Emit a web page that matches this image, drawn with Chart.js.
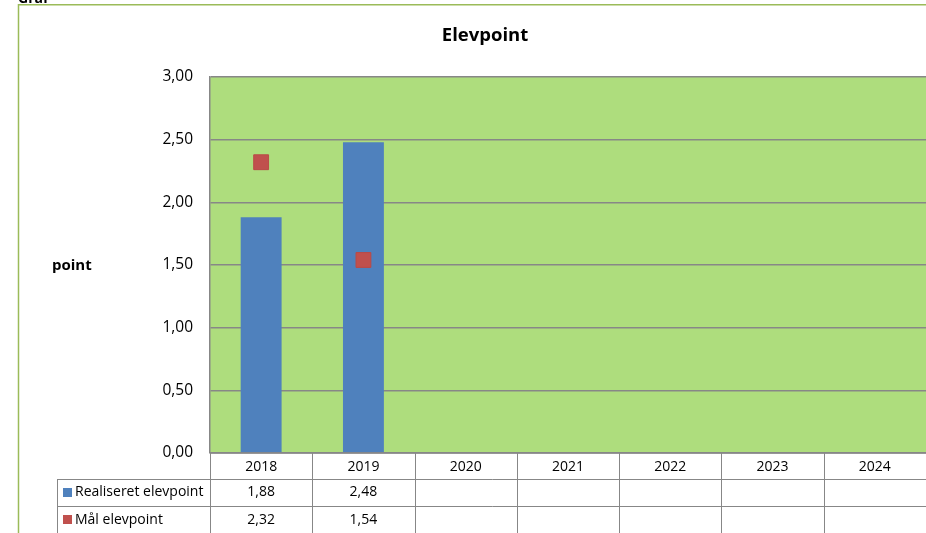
<!DOCTYPE html>
<html>
<head>
<meta charset="utf-8">
<script src="https://cdn.jsdelivr.net/npm/chart.js@4"></script>
<style>
  html, body { margin: 0; padding: 0; background: #ffffff; }
  #wrap { width: 926px; height: 533px; position: relative; }
</style>
</head>
<body>
<div id="wrap"><canvas id="c" width="926" height="533"></canvas></div>
<script>
// ---- data ----
const chartTitle = 'Elevpoint';
const yAxisLabel = 'point';
const categories = ['2018', '2019', '2020', '2021', '2022', '2023', '2024'];
const realiseretLabel = 'Realiseret elevpoint';
const realiseret = [1.88, 2.48, null, null, null, null, null];
const maalLabel = 'Mål elevpoint';
const maal = [2.32, 1.54, null, null, null, null, null];
const yMin = 0;
const yMax = 3;
const yStep = 0.5;

const BLUE = '#4F81BD';
const RED = '#C0504D';
const GREEN = '#AEDD7D';
const GRID = '#878787';
const FONT = '"Open Sans", Lato, sans-serif';

function fmt(v) { return v.toFixed(2).replace('.', ','); }

const tablePlugin = {
  id: 'excelTable',
  beforeDraw(chart) {
    const ctx = chart.ctx;
    const a = chart.chartArea;
    ctx.save();
    ctx.fillStyle = GREEN;
    ctx.fillRect(a.left, a.top, a.right - a.left, a.bottom - a.top);
    ctx.restore();
  },
  afterDraw(chart) {
    const ctx = chart.ctx;
    const a = chart.chartArea;
    const xs = chart.scales.x;
    ctx.save();
    // outer frame
    ctx.strokeStyle = '#9BBB59';
    ctx.lineWidth = 1.5;
    ctx.beginPath();
    ctx.moveTo(18.5, 540);
    ctx.lineTo(18.5, 4.75);
    ctx.lineTo(930, 4.75);
    ctx.stroke();
    // partial heading above frame
    ctx.fillStyle = '#000';
    ctx.font = 'bold 14px ' + FONT;
    ctx.textAlign = 'left';
    ctx.textBaseline = 'alphabetic';
    ctx.fillText('Graf', 18, 2.5);
    // title
    ctx.font = 'bold 18.5px ' + FONT;
    ctx.textAlign = 'center';
    ctx.fillText(chartTitle, 485, 40.7);
    // y axis label
    ctx.font = 'bold 15px ' + FONT;
    ctx.textAlign = 'left';
    ctx.fillText(yAxisLabel, 52, 270);

    // data table
    const n = categories.length;
    const colW = (a.right - a.left) / n;
    const top = a.bottom;
    const rowH = [26, 27, 28];
    const y1 = top + rowH[0];
    const y2 = y1 + rowH[1];
    const y3 = y2 + rowH[2];
    const leftX = 57.5;
    ctx.strokeStyle = GRID;
    ctx.lineWidth = 1;
    ctx.beginPath();
    for (let i = 0; i <= n; i++) {
      const x = Math.round(a.left + i * colW) + 0.5;
      ctx.moveTo(x, top);
      ctx.lineTo(x, y3);
    }
    ctx.moveTo(leftX, y1);
    ctx.lineTo(leftX, y3);
    ctx.moveTo(leftX, Math.round(y1) + 0.5);
    ctx.lineTo(a.right + 2, Math.round(y1) + 0.5);
    ctx.moveTo(leftX, Math.round(y2) + 0.5);
    ctx.lineTo(a.right + 2, Math.round(y2) + 0.5);
    ctx.stroke();
    // bottom axis line
    ctx.lineWidth = 1.5;
    ctx.beginPath();
    ctx.moveTo(a.left, a.bottom);
    ctx.lineTo(a.right + 2, a.bottom);
    ctx.stroke();

    ctx.fillStyle = '#000';
    ctx.font = '14px ' + FONT;
    ctx.textAlign = 'center';
    ctx.textBaseline = 'middle';
    for (let i = 0; i < n; i++) {
      const cx = xs.getPixelForValue(i);
      ctx.fillText(categories[i], cx, top + rowH[0] / 2 + 1);
      if (realiseret[i] != null) ctx.fillText(fmt(realiseret[i]), cx, y1 + rowH[1] / 2);
      if (maal[i] != null) ctx.fillText(fmt(maal[i]), cx, y2 + rowH[2] / 2);
    }
    // legend keys
    ctx.fillStyle = BLUE;
    ctx.fillRect(63, y1 + 9, 9, 9);
    ctx.fillStyle = RED;
    ctx.fillRect(63, y2 + 9, 9, 9);
    ctx.fillStyle = '#000';
    ctx.font = '14px ' + FONT;
    ctx.textAlign = 'left';
    ctx.fillText(realiseretLabel, 75, y1 + rowH[1] / 2);
    ctx.fillText(maalLabel, 75, y2 + rowH[2] / 2);
    ctx.restore();
  }
};

new Chart(document.getElementById('c'), {
  data: {
    labels: categories,
    datasets: [
      {
        type: 'line',
        label: maalLabel,
        data: maal,
        showLine: false,
        pointStyle: 'rect',
        pointRadius: 10.5,
        pointHoverRadius: 10.5,
        backgroundColor: RED,
        borderColor: '#B94A47',
        borderWidth: 1,
        order: 0
      },
      {
        type: 'bar',
        label: realiseretLabel,
        data: realiseret,
        backgroundColor: BLUE,
        borderWidth: 0,
        barPercentage: 0.4,
        categoryPercentage: 1.0,
        order: 1
      }
    ]
  },
  options: {
    responsive: false,
    animation: false,
    events: [],
    layout: { autoPadding: false, padding: { left: 0, right: -1, top: 77, bottom: 80 } },
    plugins: {
      legend: { display: false },
      title: { display: false },
      tooltip: { enabled: false }
    },
    scales: {
      x: {
        type: 'category',
        display: false,
        offset: true,
        grid: { display: false }
      },
      y: {
        min: yMin,
        max: yMax,
        afterFit(scale) { scale.width = 210; },
        ticks: {
          stepSize: yStep,
          padding: 17,
          color: '#000',
          font: { family: FONT, size: 15.5 },
          callback: (v) => fmt(v)
        },
        grid: {
          color: GRID,
          lineWidth: 1.5,
          drawTicks: false
        },
        border: { display: true, color: GRID, width: 1.5 }
      }
    }
  },
  plugins: [tablePlugin]
});
</script>
</body>
</html>
